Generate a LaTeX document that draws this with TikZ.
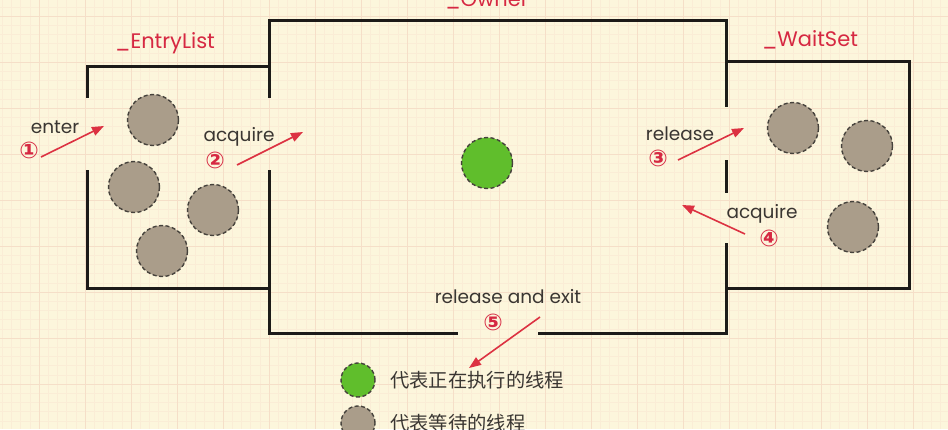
\documentclass[tikz,border=0pt]{standalone}
\usepackage{fontspec}
\setmainfont{Poppins}
\newfontfamily\cjkfont{Noto Sans CJK SC}
\newfontfamily\symfont{DejaVu Sans}
\usetikzlibrary{arrows.meta}
\definecolor{bg}{RGB}{252,246,220}
\definecolor{majorgrid}{RGB}{245,223,200}
\definecolor{minorgrid}{RGB}{250,237,214}
\definecolor{wall}{RGB}{28,26,24}
\definecolor{labelred}{RGB}{214,40,66}
\definecolor{arrowred}{RGB}{220,50,66}
\definecolor{txt}{RGB}{58,54,50}
\definecolor{waitgray}{RGB}{170,157,138}
\definecolor{dashgray}{RGB}{70,66,60}
\definecolor{rungreen}{RGB}{96,190,44}
\tikzset{
  wallline/.style={draw=wall, line width=3pt},
  titlelabel/.style={text=labelred, font=\fontsize{21}{24}\selectfont, inner sep=0},
  actlabel/.style={text=txt, font=\fontsize{18.5}{22}\selectfont, inner sep=0},
  numlabel/.style={text=labelred, font=\symfont\bfseries\fontsize{23}{26}\selectfont, inner sep=0},
  redarrow/.style={draw=arrowred, line width=1.6pt, -{Triangle[length=12pt,width=9pt]}},
  thread/.style={circle, inner sep=0, minimum size=51pt, line width=1.4pt, dash pattern=on 4pt off 2.5pt, draw=dashgray},
  waiting/.style={thread, fill=waitgray},
  running/.style={thread, fill=rungreen},
  legendwait/.style={waiting, minimum size=34pt},
  legendrun/.style={running, minimum size=34pt},
  legendtext/.style={text=txt, font=\cjkfont\fontsize{19.3}{23}\selectfont, anchor=west, inner sep=0},
}
\begin{document}
\begin{tikzpicture}[x=1pt,y=-1pt]
\useasboundingbox (0,0) rectangle (948,429);
\clip (0,0) rectangle (948,429);
\fill[bg] (0,0) rectangle (948,429);
% grid
\foreach \gx in {2.2,11.4,...,948} {\draw[minorgrid, line width=0.4pt] (\gx,0) -- (\gx,429);}
\foreach \gy in {6.8,16,...,429} {\draw[minorgrid, line width=0.4pt] (0,\gy) -- (948,\gy);}
\foreach \gx in {39,85,...,948} {\draw[majorgrid, line width=0.8pt] (\gx,0) -- (\gx,429);}
\foreach \gy in {16,62,...,429} {\draw[majorgrid, line width=0.8pt] (0,\gy) -- (948,\gy);}

% walls
\draw[wallline] (87,98) -- (87,66) -- (269,66);
\draw[wallline] (87,170) -- (87,288) -- (269,288);
\draw[wallline] (269,98) -- (269,20) -- (726,20) -- (726,107);
\draw[wallline] (269,170) -- (269,333) -- (458,333);
\draw[wallline] (538,333) -- (726,333) -- (726,243);
\draw[wallline] (726,160) -- (726,193);
\draw[wallline] (726,61) -- (909,61) -- (909,288) -- (726,288);

% titles
\node[titlelabel] (entrylist) at (165,43) {\_EntryList};
\node[titlelabel, anchor=base] (owner) at (487,6) {\_Owner};
\node[titlelabel] (waitset) at (810,40) {\_WaitSet};

% threads
\node[waiting] (e1) at (153,120) {};
\node[waiting] (e2) at (134,187) {};
\node[waiting] (e3) at (213,210) {};
\node[waiting] (e4) at (162,251) {};
\node[running] (own) at (487,163) {};
\node[waiting] (w1) at (793,128) {};
\node[waiting] (w2) at (867,146) {};
\node[waiting] (w3) at (853,227) {};

% step 1
\node[actlabel] (enter) at (55,127) {enter};
\node[numlabel] (n1) at (29,150) {①};
\coordinate (a1s) at (41,157);
\coordinate (a1e) at (104,126);
\draw[redarrow] (a1s) -- (a1e);
% step 2
\node[actlabel] (acq1) at (239,137) {acquire};
\node[numlabel] (n2) at (215,160) {②};
\coordinate (a2s) at (237,165);
\coordinate (a2e) at (303,132);
\draw[redarrow] (a2s) -- (a2e);
% step 3
\node[actlabel] (rel) at (680,134) {release};
\node[numlabel] (n3) at (658,158) {③};
\coordinate (a3s) at (678,160);
\coordinate (a3e) at (744,128);
\draw[redarrow] (a3s) -- (a3e);
% step 4
\node[actlabel] (acq2) at (762,214) {acquire};
\node[numlabel] (n4) at (769,238) {④};
\coordinate (a4s) at (745,234);
\coordinate (a4e) at (682,205);
\draw[redarrow] (a4s) -- (a4e);
% step 5
\node[actlabel] (relexit) at (508,297) {release and exit};
\node[numlabel] (n5) at (493,322) {⑤};
\coordinate (a5s) at (540,317);
\coordinate (a5e) at (469,368);
\draw[redarrow] (a5s) -- (a5e);

% legend
\node[legendrun] (lr) at (358,380) {};
\node[legendtext] (lrt) at (390,380) {代表正在执行的线程};
\node[legendwait] (lw) at (358,423) {};
\node[legendtext] (lwt) at (390,423) {代表等待的线程};
\end{tikzpicture}
\end{document}
